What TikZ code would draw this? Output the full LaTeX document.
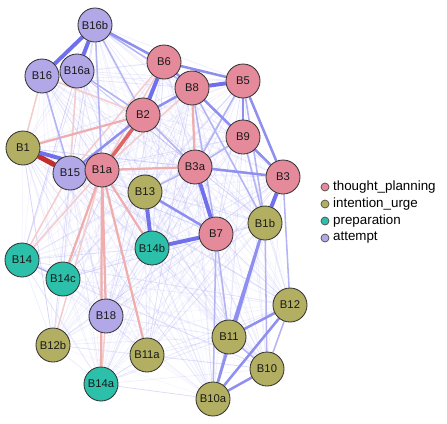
\documentclass[tikz,border=0pt]{standalone}
\usepackage{fontspec}
\setmainfont{Liberation Sans}
\usetikzlibrary{backgrounds,positioning}
\definecolor{plan}{RGB}{228,138,154}
\definecolor{urge}{RGB}{178,175,98}
\definecolor{prep}{RGB}{44,191,170}
\definecolor{atte}{RGB}{178,168,232}
\definecolor{posedge}{RGB}{105,105,235}
\definecolor{negedge}{RGB}{215,50,50}
\tikzset{
  sym/.style={circle, draw=black!80, line width=0.6pt, minimum size=0.85cm, inner sep=0pt, text=black!90, font=\fontsize{8}{8}\selectfont},
  faint/.style={posedge!55, line width=0.55pt},
  wb/.style={posedge!50, line width=1.1pt},
  mb/.style={posedge!75, line width=1.8pt},
  sb/.style={posedge!95, line width=2.8pt},
  wr/.style={negedge!25, line width=1.1pt},
  mr/.style={negedge!40, line width=1.6pt},
  sr/.style={negedge!90!black, line width=3.6pt},
  keydot/.style={circle, draw=black!70, line width=0.5pt, minimum size=0.2cm, inner sep=0pt},
  keytext/.style={right=2.5pt of #1, inner sep=0pt, font=\fontsize{9.5}{9.5}\selectfont}
}
\begin{document}
\begin{tikzpicture}[x=0.025cm, y=-0.025cm]
\useasboundingbox (0,0) rectangle (447,423);
% items of the network
\foreach \n/\x/\y/\c in {B16b/95/25/atte, B16/42/76/atte, B16a/77/71/atte, B6/164/62/plan,
  B8/192/88/plan, B5/243/81/plan, B2/143/115/plan, B9/243/137/plan, B1/23/148/urge,
  B15/70/173/atte, B1a/102/170/plan, B3a/195/167/plan, B3/283/177/plan, B13/145/192/urge,
  B1b/265/223/urge, B7/216/234/plan, B14b/152/248/prep, B14/22/260/prep, B14c/63/279/prep,
  B12/290/305/urge, B18/106/316/atte, B11/229/337/urge, B12b/53/345/urge, B11a/147/355/urge,
  B10/267/369/urge, B14a/101/384/prep, B10a/213/399/urge}
  \node[sym, fill=\c] (\n) at (\x,\y) {\n};
\begin{scope}[on background layer]
% every pair gets a faint edge
\pgfmathsetseed{11}
\foreach \a [count=\i] in {B16b,B16,B16a,B6,B8,B5,B2,B9,B1,B15,B1a,B3a,B3,B13,B1b,B7,B14b,B14,B14c,B12,B18,B11,B12b,B11a,B10,B14a,B10a}{
  \foreach \b [count=\j] in {B16b,B16,B16a,B6,B8,B5,B2,B9,B1,B15,B1a,B3a,B3,B13,B1b,B7,B14b,B14,B14c,B12,B18,B11,B12b,B11a,B10,B14a,B10a}{
    \ifnum\j>\i
      \pgfmathsetmacro\o{0.1+0.45*rnd*rnd}
      \draw[faint, opacity=\o] (\a) -- (\b);
    \fi
  }
}
% negative edges
\foreach \a/\b in {B16/B1, B16a/B15, B2/B16, B6/B15, B1a/B14, B15/B14, B12b/B1a, B18/B14a, B8/B1a, B6/B1a}
  \draw[wr] (\a) -- (\b);
\foreach \a/\b in {B1/B2, B1a/B3a, B8/B3a, B1a/B14b, B1a/B18, B1a/B14a, B1a/B11a, B1a/B14c}
  \draw[mr] (\a) -- (\b);
\draw[mr, negedge!75, line width=2.6pt] (B2) -- (B1a);
\draw[sr] (B1) -- (B15);
% positive edges
\foreach \a/\b in {B16b/B2, B16b/B1a, B16b/B8, B16/B15, B16a/B2, B9/B3, B9/B1b, B5/B1b, B8/B1b, B8/B7,
  B3a/B9, B3a/B5, B13/B3a, B7/B11, B7/B10a, B1b/B10, B12/B10, B11/B10, B11/B10a, B3/B12, B14c/B14, B2/B3a}
  \draw[wb] (\a) -- (\b);
\foreach \a/\b in {B16b/B6, B6/B8, B6/B5, B8/B2, B2/B15, B5/B9, B5/B3, B3a/B3, B13/B7,
  B1b/B11, B1b/B10a, B11/B12, B12/B10a, B10/B10a, B8/B3}
  \draw[mb] (\a) -- (\b);
\foreach \a/\b in {B16b/B16, B16b/B16a, B6/B2, B8/B5, B1/B1a, B3/B1b, B3a/B7, B13/B14b, B14b/B7}
  \draw[sb] (\a) -- (\b);
\end{scope}
% legend
\foreach \k/\c/\y/\t in {k1/plan/187/thought\_planning, k2/urge/204/intention\_urge, k3/prep/221/preparation, k4/atte/238/attempt}{
  \node[keydot, fill=\c] (\k) at (325,\y) {};
  \node[keytext=\k] {\t};
}
\end{tikzpicture}
\end{document}
